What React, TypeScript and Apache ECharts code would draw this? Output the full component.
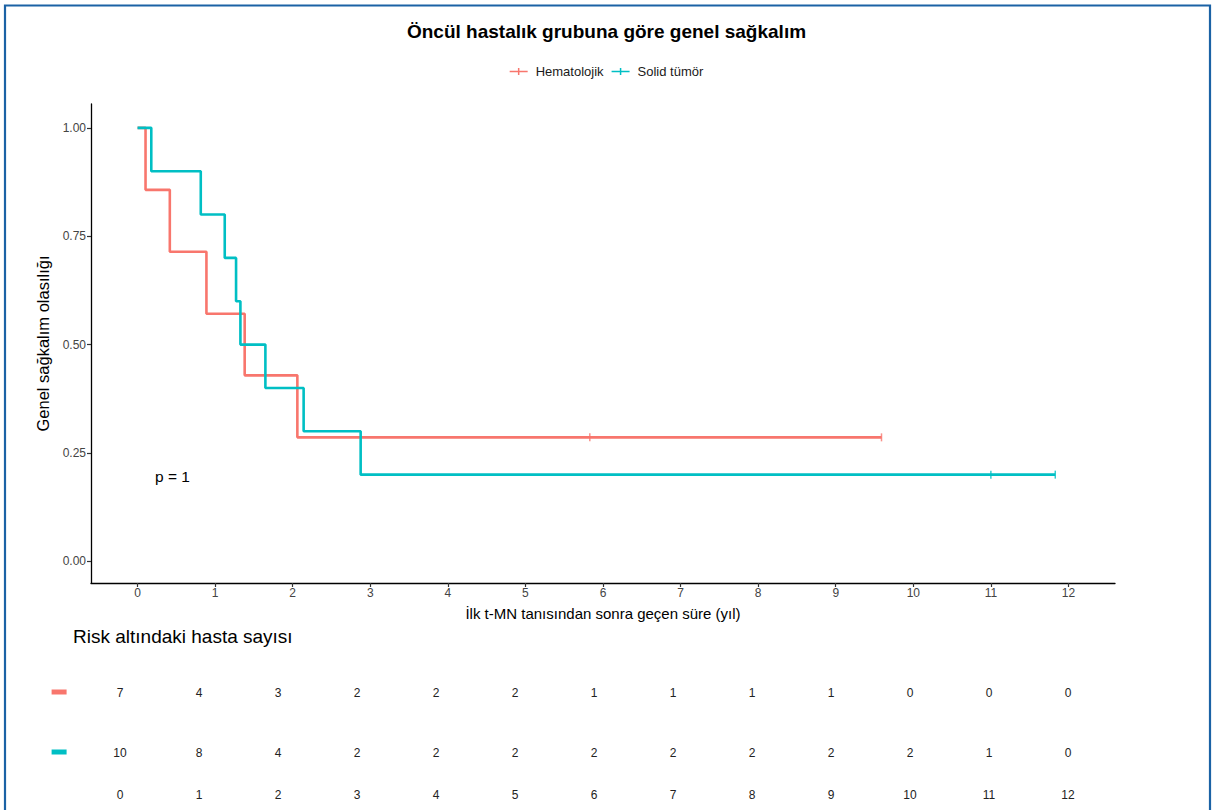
import React, { useEffect, useRef } from "react";
import * as echarts from "echarts";

const groups = ["Hematolojik", "Solid tümör"];
const groupColors = ["#F8766D", "#00BFC4"];

// Kaplan-Meier step points [time (years), survival]
const hemaSteps = [
  [0, 1], [0.103, 0.857], [0.416, 0.714], [0.888, 0.571], [1.381, 0.429], [2.06, 0.286], [9.59, 0.286],
];
const solidSteps = [
  [0, 1], [0.177, 0.9], [0.815, 0.8], [1.124, 0.7], [1.27, 0.6], [1.326, 0.5], [1.648, 0.4], [2.141, 0.3], [2.876, 0.2], [11.83, 0.2],
];
const hemaCensor = [[5.83, 0.286], [9.59, 0.286]];
const solidCensor = [[11.0, 0.2], [11.83, 0.2]];

const timeTicks = [0, 1, 2, 3, 4, 5, 6, 7, 8, 9, 10, 11, 12];
const survTicks = [0, 0.25, 0.5, 0.75, 1];

const hemaRisk = [7, 4, 3, 2, 2, 2, 1, 1, 1, 1, 0, 0, 0];
const solidRisk = [10, 8, 4, 2, 2, 2, 2, 2, 2, 2, 2, 1, 0];

const titleText = "Öncül hastalık grubuna göre genel sağkalım";
const riskTitle = "Risk altındaki hasta sayısı";
const xName = "İlk t-MN tanısından sonra geçen süre (yıl)";
const yName = "Genel sağkalım olasılığı";
const pText = "p = 1";

const FONT = "'Liberation Sans', Arial, sans-serif";
const TABLE_TEXT = "#222";

export default function App() {
  const ref = useRef<HTMLDivElement>(null);
  useEffect(() => {
    if (!ref.current) return;
    const chart = echarts.init(ref.current, undefined, { renderer: "svg" });
    const crossIcon = "path://M0,4.25H18V5.75H0Z M8.25,1.5H9.75V8.5H8.25Z";
    const riskSeries = (name: string, idx: number, values: number[]) => ({
      name,
      type: "scatter",
      xAxisIndex: 1,
      yAxisIndex: 1,
      symbol: "circle",
      symbolSize: 0.01,
      itemStyle: { color: "#ffffff", opacity: 1 },
      label: {
        show: true,
        position: "top",
        distance: 0,
        offset: [0, 7.5],
        formatter: (p: any) => String(p.value[2]),
        fontSize: 12,
        fontFamily: FONT,
        color: TABLE_TEXT,
        opacity: 1,
      },
      emphasis: { disabled: true },
      data: timeTicks.map((t, i) => [t, groups[idx], values[i]]),
      silent: true,
    });
    chart.setOption({
      animation: false,
      backgroundColor: "#ffffff",
      textStyle: { fontFamily: FONT },
      title: [
        {
          text: titleText,
          left: "center",
          top: 22,
          padding: 0,
          textStyle: { fontSize: 19, fontWeight: "bold", color: "#000", fontFamily: FONT },
        },
        {
          text: riskTitle,
          left: 73,
          top: 627,
          padding: 0,
          textStyle: { fontSize: 19, fontWeight: "normal", color: "#000", fontFamily: FONT },
        },
      ],
      legend: {
        data: groups,
        top: 60,
        left: "center",
        itemWidth: 18,
        itemHeight: 10,
        itemGap: 8,
        icon: crossIcon,
        textStyle: { fontSize: 13, color: "#1a1a1a", fontFamily: FONT, padding: [0, 0, 0, 3] },
      },
      graphic: [
        {
          type: "rect",
          shape: { x: 5, y: 5.5, width: 1205, height: 900 },
          style: { fill: "none", stroke: "#1b62a5", lineWidth: 2.2 },
          silent: true,
        },
        {
          type: "text",
          x: 155,
          y: 476,
          style: { text: pText, fill: "#000", font: `15.5px ${FONT}`, verticalAlign: "middle" },
          silent: true,
        },
      ],
      grid: [
        { left: 91, right: 98, top: 104, bottom: 227 },
        { left: 72.6, right: 97.6, top: 662, height: 120 },
      ],
      xAxis: [
        {
          type: "value",
          gridIndex: 0,
          min: -0.6,
          max: 12.6,
          axisLine: { show: true, onZero: false, lineStyle: { color: "#000", width: 1.3 } },
          axisTick: { show: true, customValues: timeTicks, length: 4, lineStyle: { color: "#333", width: 1.2 } },
          axisLabel: { customValues: timeTicks, fontSize: 12, color: "#444", margin: 4 },
          splitLine: { show: false },
          name: xName,
          nameLocation: "middle",
          nameGap: 23,
          nameTextStyle: { fontSize: 15, color: "#000" },
        },
        {
          type: "value",
          gridIndex: 1,
          min: -0.6,
          max: 12.6,
          axisLine: { show: false },
          axisTick: { show: false },
          axisLabel: { customValues: timeTicks, fontSize: 12, color: TABLE_TEXT, margin: 7 },
          splitLine: { show: false },
        },
      ],
      yAxis: [
        {
          type: "value",
          gridIndex: 0,
          min: -0.05,
          max: 1.055,
          axisLine: { show: true, onZero: false, lineStyle: { color: "#000", width: 1.3 } },
          axisTick: { show: true, customValues: survTicks, length: 4, lineStyle: { color: "#333", width: 1.2 } },
          axisLabel: {
            customValues: survTicks,
            fontSize: 12,
            color: "#444",
            margin: 5,
            formatter: (v: number) => v.toFixed(2),
          },
          splitLine: { show: false },
          name: yName,
          nameLocation: "middle",
          nameGap: 36,
          nameTextStyle: { fontSize: 16.5, color: "#000" },
        },
        {
          type: "category",
          gridIndex: 1,
          data: groups,
          inverse: true,
          axisLine: { show: false },
          axisTick: { show: false },
          axisLabel: {
            margin: 6,
            formatter: (v: string) => (v === groups[0] ? "{h| }" : "{s| }"),
            rich: {
              h: { width: 15, height: 5, backgroundColor: groupColors[0] },
              s: { width: 15, height: 5, backgroundColor: groupColors[1] },
            },
          },
          splitLine: { show: false },
        },
      ],
      series: [
        {
          name: groups[0],
          type: "line",
          step: "end",
          data: hemaSteps,
          symbol: "none",
          lineStyle: { color: groupColors[0], width: 2.6 },
          itemStyle: { color: groupColors[0] },
          z: 3,
        },
        {
          name: groups[1],
          type: "line",
          step: "end",
          data: solidSteps,
          symbol: "none",
          lineStyle: { color: groupColors[1], width: 2.6 },
          itemStyle: { color: groupColors[1] },
          z: 4,
        },
        {
          name: "censor-h",
          type: "scatter",
          data: hemaCensor,
          symbol: "rect",
          symbolSize: [1.5, 8],
          itemStyle: { color: groupColors[0] },
          z: 5,
        },
        {
          name: "censor-s",
          type: "scatter",
          data: solidCensor,
          symbol: "rect",
          symbolSize: [1.5, 8],
          itemStyle: { color: groupColors[1] },
          z: 5,
        },
        riskSeries("risk-h", 0, hemaRisk),
        riskSeries("risk-s", 1, solidRisk),
      ],
    });
    return () => chart.dispose();
  }, []);
  return (
    <div
      ref={ref}
      style={{ position: "fixed", left: 0, top: 0, width: 1213, height: 810, background: "#fff" }}
    />
  );
}
